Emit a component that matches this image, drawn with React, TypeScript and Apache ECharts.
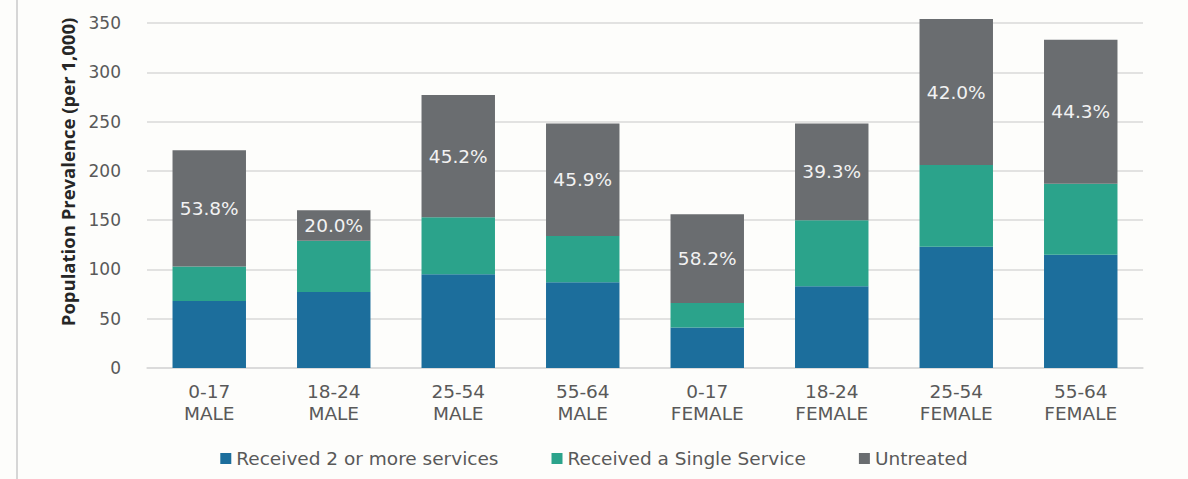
import React, { useEffect, useRef } from "react";
import * as echarts from "echarts";

const categories = ["0-17\nMALE", "18-24\nMALE", "25-54\nMALE", "55-64\nMALE", "0-17\nFEMALE", "18-24\nFEMALE", "25-54\nFEMALE", "55-64\nFEMALE"];
const twoOrMore = [68, 77, 95, 87, 41, 83, 123, 115];
const singleService = [35, 52, 58, 47, 25, 67, 83, 72];
const untreated = [118, 31, 124, 114, 90, 98, 148, 146];
const untreatedPct = ["53.8%", "20.0%", "45.2%", "45.9%", "58.2%", "39.3%", "42.0%", "44.3%"];
const seriesNames = ["Received 2 or more services", "Received a Single Service", "Untreated"];
const yTicks = { min: 0, max: 350, interval: 50 };

export default function App() {
  const ref = useRef<HTMLDivElement>(null);
  useEffect(() => {
    document.body.style.margin = "0";
    const chart = echarts.init(ref.current!, null, { renderer: "svg" });
    const font = "'DejaVu Sans', sans-serif";
    chart.setOption({
      animation: false,
      backgroundColor: "#fdfdfb",
      grid: { left: 147, right: 45, top: 23, bottom: 111 },
      legend: {
        data: seriesNames,
        top: 444,
        left: "center",
        icon: "rect",
        itemWidth: 11,
        itemHeight: 11,
        itemGap: 53,
        textStyle: { color: "#595959", fontSize: 18.5, fontFamily: font },
      },
      graphic: [
        {
          type: "line",
          shape: { x1: 17, y1: 0, x2: 17, y2: 479 },
          style: { stroke: "#d6d6d6", lineWidth: 2 },
        },
        {
          type: "text",
          x: 67,
          y: 172,
          rotation: Math.PI / 2,
          style: {
            text: "Population Prevalence (per 1,000)",
            fontSize: 18.5,
            fontWeight: "bold",
            fontFamily: "'Open Sans', sans-serif",
            fill: "#262626",
            align: "center",
            verticalAlign: "middle",
          },
        },
      ],
      xAxis: {
        type: "category",
        data: categories,
        axisTick: { show: false },
        axisLine: { lineStyle: { color: "#d9d9d9", width: 1.5 } },
        axisLabel: {
          color: "#595959",
          fontSize: 18.5,
          lineHeight: 21.5,
          margin: 13,
          fontFamily: font,
          interval: 0,
        },
      },
      yAxis: {
        type: "value",
        min: yTicks.min,
        max: yTicks.max,
        interval: yTicks.interval,
        axisLine: { show: false },
        axisTick: { show: false },
        splitLine: { lineStyle: { color: "#d9d9d9", width: 1.5 } },
        axisLabel: { color: "#595959", fontSize: 17, margin: 26, fontFamily: font },
      },
      series: [
        {
          name: seriesNames[0],
          type: "bar",
          stack: "total",
          barWidth: "59%",
          clip: false,
          data: twoOrMore,
          itemStyle: { color: "#1c6e9c" },
        },
        {
          name: seriesNames[1],
          type: "bar",
          stack: "total",
          clip: false,
          data: singleService,
          itemStyle: { color: "#2ba38b" },
        },
        {
          name: seriesNames[2],
          type: "bar",
          stack: "total",
          clip: false,
          data: untreated,
          itemStyle: { color: "#6a6d70" },
          label: {
            show: true,
            position: "inside",
            formatter: (p: any) => untreatedPct[p.dataIndex],
            color: "#f2f2f2",
            fontSize: 18.5,
            fontFamily: font,
          },
        },
      ],
    });
    return () => chart.dispose();
  }, []);
  return <div ref={ref} style={{ width: 1188, height: 479 }} />;
}
